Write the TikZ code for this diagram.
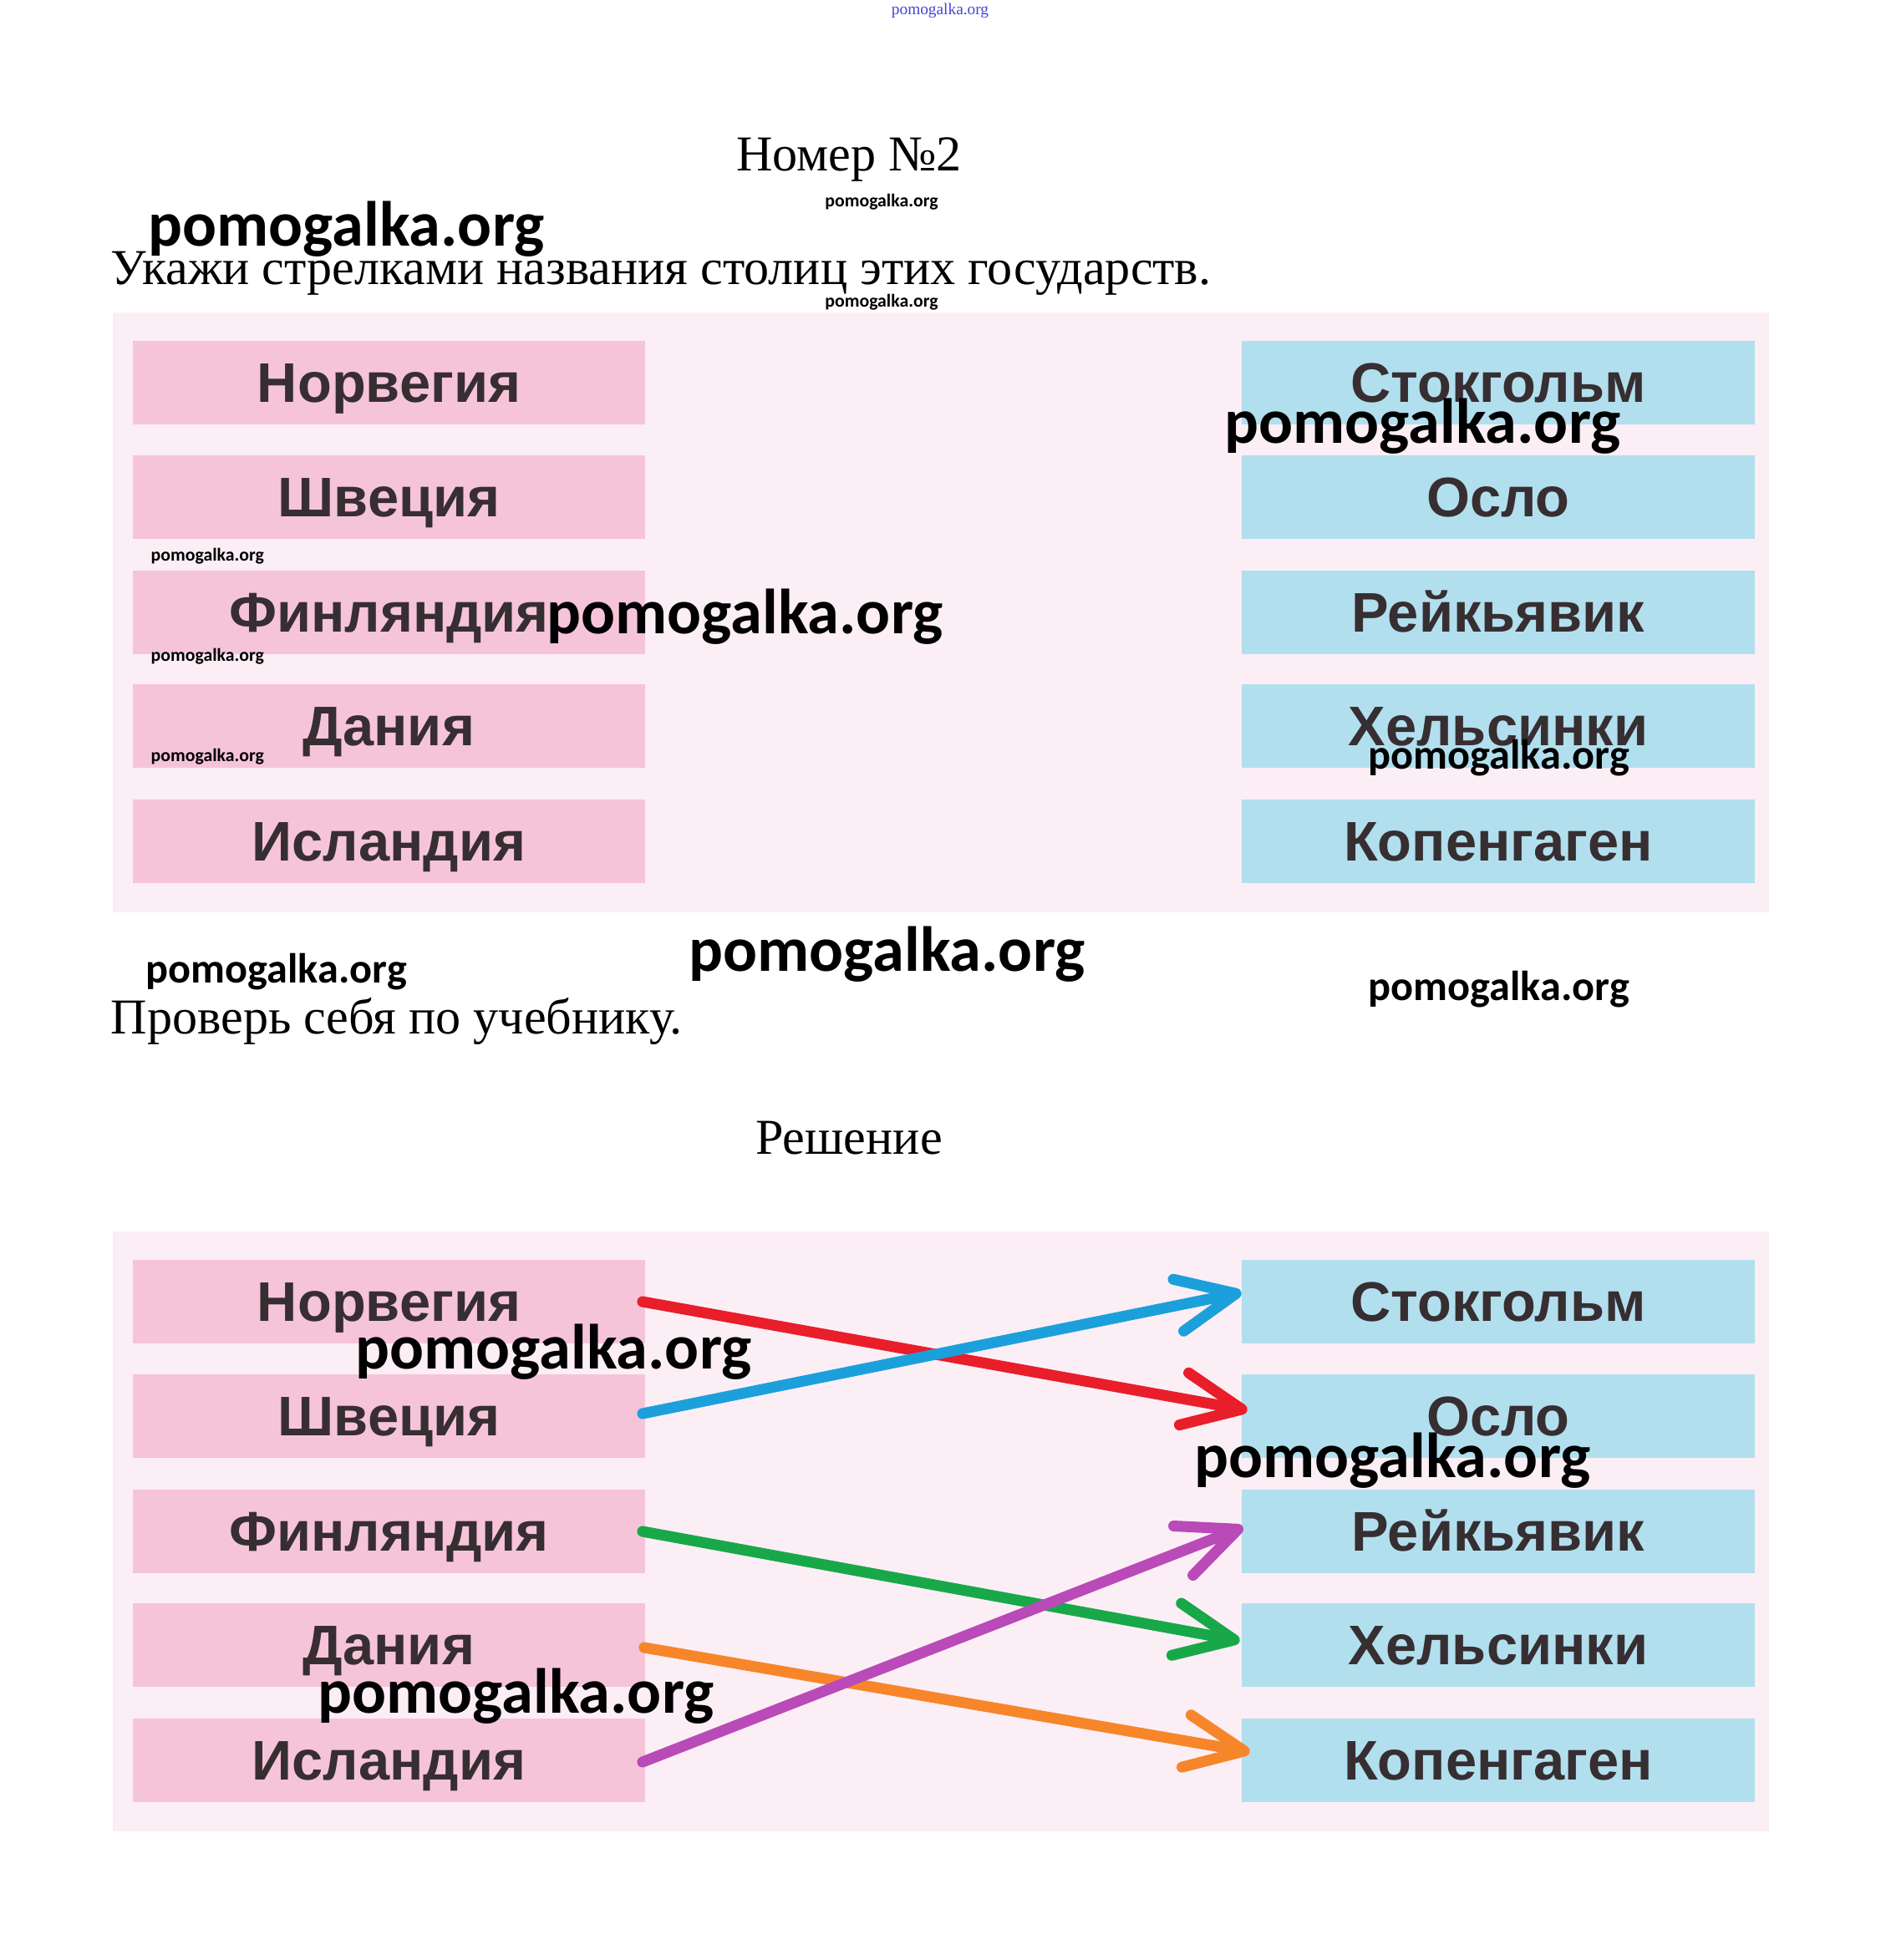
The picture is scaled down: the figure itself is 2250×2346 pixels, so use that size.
\documentclass[tikz,border=0pt]{standalone}
\usepackage{fontspec}
\setmainfont{Liberation Serif}
\newfontfamily\boxfont{Liberation Sans}
\newfontfamily\wmfont{Carlito}
\usetikzlibrary{arrows.meta,calc}
\definecolor{panelbg}{RGB}{252,238,245}
\definecolor{pinkbox}{RGB}{246,196,217}
\definecolor{bluebox}{RGB}{178,223,238}
\definecolor{labelgray}{RGB}{55,46,50}
\definecolor{topblue}{RGB}{70,70,210}
\definecolor{arred}{RGB}{232,30,42}
\definecolor{arblue}{RGB}{28,160,220}
\definecolor{argreen}{RGB}{24,168,74}
\definecolor{arorange}{RGB}{247,134,42}
\definecolor{arpurple}{RGB}{185,74,184}
\tikzset{
  country/.style={fill=pinkbox, minimum width=6.13cm, minimum height=1cm, inner sep=0pt,
    font=\boxfont\bfseries\fontsize{19}{19}\selectfont, text=labelgray,
    text height=13.6pt, text depth=0pt},
  capital/.style={country, fill=bluebox},
  wmbig/.style={font=\wmfont\bfseries\fontsize{21.7}{22}\selectfont, anchor=base west, inner sep=0pt},
  wmmid/.style={font=\wmfont\bfseries\fontsize{14.3}{15}\selectfont, anchor=base west, inner sep=0pt},
  wmsmall/.style={font=\wmfont\bfseries\fontsize{6.2}{7}\selectfont, anchor=base west, inner sep=0pt},
  serif/.style={font=\fontsize{17.1}{19}\selectfont, inner sep=0pt},
  arr/.style={line width=3.7pt, line cap=round,
    -{Straight Barb[length=20pt,width=18pt,round]}}
}
\begin{document}
\begin{tikzpicture}[x=0.01cm,y=-0.01cm]
\useasboundingbox[fill=white] (0,0) rectangle (2250,2346);

% header texts
\node[font=\fontsize{5.5}{6}\selectfont, text=topblue, anchor=base, inner sep=0pt] (wtop) at (1125,18) {pomogalka.org};
\node[serif, anchor=base] (title) at (1016,205) {Номер №2};
\node[wmsmall, anchor=base] (w1) at (1055,248) {pomogalka.org};
\node[wmbig] (w2) at (177,295) {pomogalka.org};
\node[serif, anchor=base west] (task) at (132,341) {Укажи стрелками названия столиц этих государств.};
\node[wmsmall, anchor=base] (w3) at (1055,368) {pomogalka.org};

% panel 1
\fill[panelbg] (135,374) rectangle (2117,1092);
\node[country] (L1) at (465.5,458) {Норвегия};
\node[country] (L2) at (465.5,595) {Швеция};
\node[country] (L3) at (465.5,733) {Финляндия};
\node[country] (L4) at (465.5,869) {Дания};
\node[country] (L5) at (465.5,1007) {Исландия};
\node[capital] (R1) at (1793,458) {Стокгольм};
\node[capital] (R2) at (1793,595) {Осло};
\node[capital] (R3) at (1793,733) {Рейкьявик};
\node[capital] (R4) at (1793,869) {Хельсинки};
\node[capital] (R5) at (1793,1007) {Копенгаген};

\node[wmbig] (w4) at (1465,531) {pomogalka.org};
\node[wmbig] (w5) at (654,758) {pomogalka.org};
\node[wmsmall] (w6) at (180,672) {pomogalka.org};
\node[wmsmall] (w7) at (180,791) {pomogalka.org};
\node[wmsmall] (w8) at (180,911) {pomogalka.org};
\node[wmmid] (w9) at (1637,920) {pomogalka.org};

% middle texts
\node[wmmid] (w10) at (174,1176) {pomogalka.org};
\node[wmbig] (w11) at (824,1162) {pomogalka.org};
\node[wmmid] (w12) at (1637,1197) {pomogalka.org};
\node[serif, anchor=base west] (check) at (132,1237) {Проверь себя по учебнику.};
\node[serif, anchor=base] (sol) at (1016,1381) {Решение};

% panel 2
\fill[panelbg] (135,1474) rectangle (2117,2192);
\node[country] (A1) at (465.5,1558) {Норвегия};
\node[country] (A2) at (465.5,1695) {Швеция};
\node[country] (A3) at (465.5,1833) {Финляндия};
\node[country] (A4) at (465.5,1969) {Дания};
\node[country] (A5) at (465.5,2107) {Исландия};
\node[capital] (B1) at (1793,1558) {Стокгольм};
\node[capital] (B2) at (1793,1695) {Осло};
\node[capital] (B3) at (1793,1833) {Рейкьявик};
\node[capital] (B4) at (1793,1969) {Хельсинки};
\node[capital] (B5) at (1793,2107) {Копенгаген};

\draw[arr, arred] ($(A1.east)+(-4,0)$) -- ($(B2.west)+(7,-7)$);
\draw[arr, arblue] ($(A2.east)+(-4,-3)$) -- ($(B1.west)+(0,-11)$);
\draw[arr, argreen] ($(A3.east)+(-4,0)$) -- ($(B4.west)+(-2,-5)$);
\draw[arr, arorange] ($(A4.east)+(-2,3)$) -- ($(B5.west)+(10,-10)$);
\draw[arr, arpurple] ($(A5.east)+(-4,2)$) -- ($(B3.west)+(2,-5)$);

\node[wmbig] (w13) at (425,1638) {pomogalka.org};
\node[wmbig] (w14) at (1429,1768) {pomogalka.org};
\node[wmbig] (w15) at (380,2050) {pomogalka.org};
\end{tikzpicture}
\end{document}
